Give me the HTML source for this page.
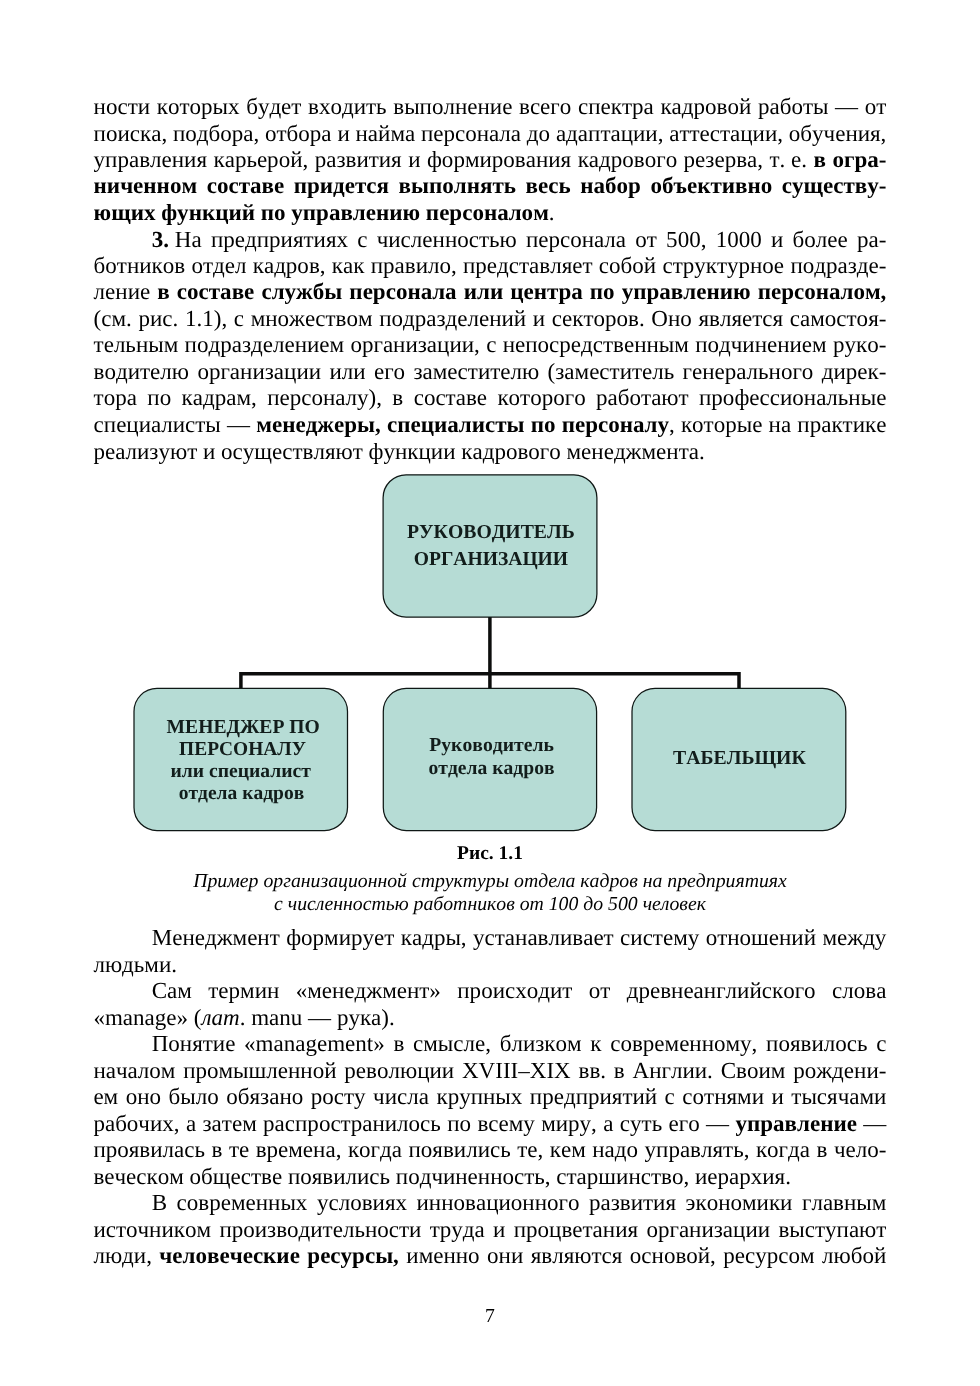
<!DOCTYPE html>
<html lang="ru">
<head>
<meta charset="utf-8">
<title>Страница 7</title>
<style>
html,body{margin:0;padding:0;background:#fff;}
body{width:980px;height:1386px;position:relative;overflow:hidden;
 font-family:"Liberation Serif","DejaVu Serif",serif;color:#000;text-rendering:geometricPrecision;
 font-kerning:none;font-variant-ligatures:none;}
#pg{position:absolute;left:0;top:0;width:980px;height:1386px;will-change:transform;opacity:0.999;}
.ln{position:absolute;white-space:nowrap;font-size:23.04px;line-height:0;height:0;}
.ln.j{white-space:nowrap;text-align:justify;text-align-last:justify;}
.cap{font-size:19.75px;}
.c{text-align:center;}
.nb{display:inline-block;white-space:nowrap;}
b{font-weight:bold;} i{font-style:italic;}
.dt{position:absolute;white-space:nowrap;line-height:0;height:0;width:0;font-weight:bold;color:#121d1b;
 font-size:19.75px;display:flex;justify-content:center;}
.dt span{display:block;white-space:nowrap;}
</style>
</head>
<body>
<div id="pg">

<div class="ln j" style="left:93.60px;top:106.00px;width:792.80px;">ности которых будет входить выполнение всего спектра кадровой работы — от</div>
<div class="ln j" style="left:93.60px;top:133.00px;width:792.80px;">поиска, подбора, отбора и найма персонала до адаптации, аттестации, обучения,</div>
<div class="ln j" style="left:93.60px;top:159.00px;width:792.80px;">управления карьерой, развития и формирования кадрового резерва, <span class="nb">т. е.</span> <b>в огра-</b></div>
<div class="ln j" style="left:93.60px;top:185.00px;width:792.80px;"><b>ниченном составе придется выполнять весь набор объективно существу-</b></div>
<div class="ln" style="left:93.60px;top:212.00px;"><b>ющих функций по управлению персоналом</b>.</div>
<div class="ln j" style="left:151.80px;top:239.00px;width:734.60px;"><span class="nb"><b>3.</b> На</span> предприятиях с численностью персонала от 500, 1000 и более ра-</div>
<div class="ln j" style="left:93.60px;top:265.00px;width:792.80px;">ботников отдел кадров, как правило, представляет собой структурное подразде-</div>
<div class="ln j" style="left:93.60px;top:291.00px;width:792.80px;">ление <b>в составе службы персонала или центра по управлению персоналом,</b></div>
<div class="ln j" style="left:93.60px;top:318.00px;width:792.80px;">(см. рис. 1.1), с множеством подразделений и секторов. Оно является самостоя-</div>
<div class="ln j" style="left:93.60px;top:344.00px;width:792.80px;">тельным подразделением организации, с непосредственным подчинением руко-</div>
<div class="ln j" style="left:93.60px;top:371.00px;width:792.80px;">водителю организации или его заместителю (заместитель генерального дирек-</div>
<div class="ln j" style="left:93.60px;top:397.00px;width:792.80px;">тора по кадрам, персоналу), в составе которого работают профессиональные</div>
<div class="ln j" style="left:93.60px;top:424.00px;width:792.80px;">специалисты — <b>менеджеры, специалисты по персоналу</b>, которые на практике</div>
<div class="ln" style="left:93.60px;top:451.00px;">реализуют и осуществляют функции кадрового менеджмента.</div>
<div class="ln j" style="left:151.70px;top:937.00px;width:734.70px;">Менеджмент формирует кадры, устанавливает систему отношений между</div>
<div class="ln" style="left:93.40px;top:964.00px;">людьми.</div>
<div class="ln j" style="left:151.70px;top:990.00px;width:734.70px;">Сам термин «менеджмент» происходит от древнеанглийского слова</div>
<div class="ln" style="left:93.40px;top:1017.00px;">«manage» (<i>лат</i>. manu — рука).</div>
<div class="ln j" style="left:151.70px;top:1043.00px;width:734.70px;">Понятие «management» в смысле, близком к современному, появилось с</div>
<div class="ln j" style="left:93.40px;top:1070.00px;width:793.00px;">началом промышленной революции XVIII–XIX вв. в Англии. Своим рождени-</div>
<div class="ln j" style="left:93.40px;top:1096.00px;width:793.00px;">ем оно было обязано росту числа крупных предприятий с сотнями и тысячами</div>
<div class="ln j" style="left:93.40px;top:1123.00px;width:793.00px;">рабочих, а затем распространилось по всему миру, а суть его — <b>управление</b> —</div>
<div class="ln j" style="left:93.40px;top:1149.00px;width:793.00px;">проявилась в те времена, когда появились те, кем надо управлять, когда в чело-</div>
<div class="ln" style="left:93.40px;top:1176.00px;">веческом обществе появились подчиненность, старшинство, иерархия.</div>
<div class="ln j" style="left:151.70px;top:1202.00px;width:734.70px;">В современных условиях инновационного развития экономики главным</div>
<div class="ln j" style="left:93.40px;top:1229.00px;width:793.00px;">источником производительности труда и процветания организации выступают</div>
<div class="ln j" style="left:93.40px;top:1255.00px;width:793.00px;">люди, <b>человеческие ресурсы,</b> именно они являются основой, ресурсом любой</div>

<svg id="dg" width="980" height="400" viewBox="0 460 980 400" style="position:absolute;left:0;top:460px" aria-hidden="true">
<g fill="none" stroke="#0c0d0c" stroke-width="3.5" stroke-linejoin="miter">
<path d="M240.9 688.4V673.7H739V688.4"/>
<path d="M489.9 617V688.4"/>
</g>
<g fill="#b6dcd5" stroke="#0f1715" stroke-width="1.25">
<rect x="383.1" y="474.8" width="213.8" height="142.2" rx="23" ry="23"/>
<rect x="134" y="688.4" width="213.5" height="142.1" rx="23" ry="23"/>
<rect x="383.3" y="688.4" width="213.3" height="142.1" rx="23" ry="23"/>
<rect x="632" y="688.4" width="213.8" height="142.1" rx="23" ry="23"/>
</g>
</svg>

<div class="dt" style="left:490.60px;top:532.01px"><span style="transform:scaleX(0.9993)">РУКОВОДИТЕЛЬ</span></div>
<div class="dt" style="left:490.40px;top:559.01px"><span style="transform:scaleX(0.9909)">ОРГАНИЗАЦИИ</span></div>
<div class="dt" style="left:243.40px;top:727.01px"><span style="transform:scaleX(0.9927)">МЕНЕДЖЕР ПО</span></div>
<div class="dt" style="left:242.50px;top:749.01px"><span style="transform:scaleX(0.9829)">ПЕРСОНАЛУ</span></div>
<div class="dt" style="left:240.90px;top:771.01px"><span style="transform:scaleX(0.9943)">или специалист</span></div>
<div class="dt" style="left:241.30px;top:793.01px"><span style="transform:scaleX(0.9886)">отдела кадров</span></div>
<div class="dt" style="left:491.50px;top:745.01px"><span style="transform:scaleX(0.9955)">Руководитель</span></div>
<div class="dt" style="left:491.20px;top:768.01px"><span style="transform:scaleX(0.9925)">отдела кадров</span></div>
<div class="dt" style="left:739.10px;top:758.01px"><span style="transform:scaleX(0.9995)">ТАБЕЛЬЩИК</span></div>
<div class="ln c" style="left:0;width:980px;top:853.99px;font-size:19.5px"><b>Рис. 1.1</b></div>
<div class="ln c cap" style="left:0;width:980px;top:881.01px"><i>Пример организационной структуры отдела кадров на предприятиях</i></div>
<div class="ln c cap" style="left:0;width:980px;top:904.01px"><i>с численностью работников от 100 до 500 человек</i></div>
<div class="ln c" style="left:0;width:980px;top:1315.98px;font-size:19.7px">7</div>
</div>
</body>
</html>
